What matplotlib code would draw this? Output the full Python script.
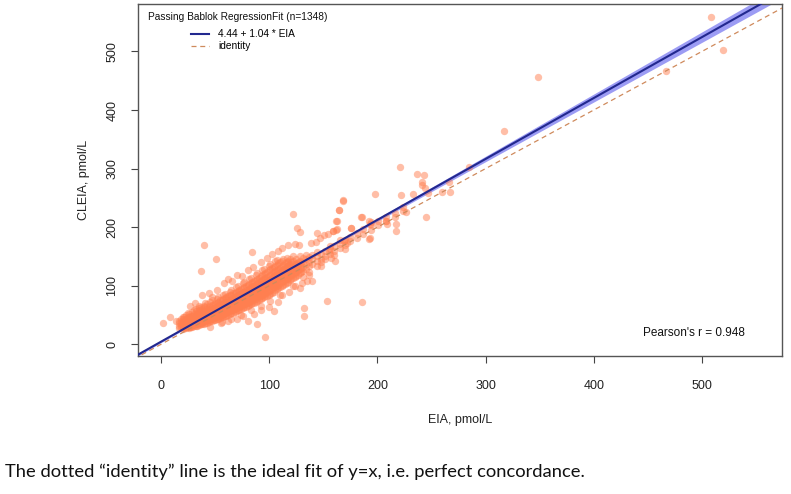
import matplotlib
matplotlib.use("Agg")
import matplotlib.pyplot as plt
import numpy as np
from matplotlib.lines import Line2D

# fit reported by the Passing-Bablok regression
intercept = 4.44
slope = 1.04
n_obs = 1348
pearson_r = 0.948

# confidence band half-width (CLEIA units)
band_x = [-25, 0, 100, 200, 300, 400, 500, 580]
band_half = [2.0, 1.6, 1.0, 2.6, 4.7, 6.8, 8.9, 10.6]

# dense cluster: one x per row, several y per row
cluster_x = [17, 20, 23, 26, 29, 32, 35, 38, 41, 44, 47, 50, 53, 56, 59, 62, 65, 68,
             71, 74, 77, 80, 83, 86, 89, 92, 95, 98, 101, 104, 107, 110, 113, 116,
             119, 122, 125, 128, 131, 134, 137, 140, 144, 148, 152, 156, 160, 165,
             170, 175, 181, 187, 194, 201, 208, 216, 224]
cluster_y = [
    [27, 31, 36, 40], [26, 30, 34, 38, 43, 47], [28, 32, 35, 39, 44, 50, 29],
    [27, 31, 34, 37, 41, 46, 52, 30], [30, 33, 36, 40, 43, 48, 55, 38],
    [31, 35, 38, 42, 45, 50, 57, 34, 61], [33, 36, 40, 43, 47, 52, 58, 45, 65],
    [34, 38, 41, 45, 49, 54, 60, 43, 48], [36, 40, 44, 47, 51, 56, 63, 70, 49],
    [38, 42, 46, 50, 54, 58, 65, 52, 47], [40, 44, 48, 52, 56, 61, 67, 75, 58],
    [41, 46, 50, 54, 58, 63, 70, 55, 60], [44, 48, 52, 57, 61, 66, 73, 80, 62],
    [46, 50, 55, 59, 64, 69, 76, 61, 66, 38], [48, 53, 57, 62, 66, 72, 79, 86, 64],
    [50, 55, 60, 64, 69, 75, 82, 67, 71], [53, 58, 62, 67, 72, 78, 85, 93, 70, 44],
    [55, 60, 65, 70, 75, 81, 88, 73, 77], [58, 63, 68, 73, 78, 84, 91, 100, 76],
    [60, 66, 71, 76, 81, 87, 95, 79, 83, 50], [63, 68, 74, 79, 84, 90, 98, 107, 82],
    [65, 71, 76, 82, 87, 93, 101, 85, 90], [68, 74, 79, 85, 90, 97, 105, 114, 88, 58],
    [71, 77, 82, 88, 94, 100, 108, 92, 96], [74, 80, 86, 92, 97, 104, 112, 121, 95],
    [77, 83, 89, 95, 101, 108, 116, 99, 103, 66], [80, 86, 92, 98, 104, 111, 120, 128, 102],
    [83, 89, 96, 102, 108, 115, 124, 106, 110], [86, 93, 99, 106, 112, 119, 128, 137, 109, 74],
    [90, 97, 103, 110, 116, 123, 132, 113, 118], [94, 100, 107, 113, 120, 127, 136, 144, 117],
    [97, 104, 111, 117, 124, 131, 140, 121, 85], [101, 108, 115, 122, 128, 136, 145, 125],
    [105, 112, 119, 126, 133, 140, 148, 129], [109, 116, 123, 130, 137, 145, 133],
    [113, 120, 127, 134, 142, 150, 99], [117, 124, 131, 139, 146, 135],
    [121, 128, 136, 143, 151], [125, 132, 140, 148, 115], [129, 137, 145, 153],
    [133, 141, 149, 124], [137, 145, 153], [142, 150, 134, 158], [146, 154, 140],
    [151, 159, 145], [155, 163, 168], [160, 167, 152], [165, 172, 178], [170, 178, 162],
    [176, 184], [182, 190], [188, 196], [195, 203], [204, 210], [211, 218],
    [218, 225], [228, 235],
]

# second, interleaved set of rows in the dense part
cluster2_x = [18.5, 21.5, 24.5, 27.5, 30.5, 33.5, 36.5, 39.5, 42.5, 45.5, 48.5, 51.5,
              54.5, 57.5, 60.5, 63.5, 66.5, 69.5, 72.5, 75.5, 78.5, 81.5, 84.5, 87.5,
              90.5, 93.5, 96.5, 99.5, 102.5, 105.5, 108.5, 111.5, 114.5, 117.5, 120.5,
              123.5, 126.5, 129.5]
cluster2_y = [
    [29, 33, 38, 44], [28, 32, 36, 41, 46, 31], [30, 33, 37, 42, 47, 54],
    [29, 32, 35, 39, 44, 49, 33], [31, 34, 38, 41, 46, 52, 59], [32, 36, 39, 44, 48, 54, 37],
    [34, 37, 41, 46, 50, 56, 63, 42], [35, 39, 43, 47, 52, 58, 66, 46],
    [37, 41, 45, 49, 53, 60, 68, 56], [39, 43, 47, 51, 55, 60, 64, 72],
    [41, 45, 49, 53, 57, 62, 69, 51], [43, 47, 51, 56, 60, 65, 71, 78],
    [45, 49, 54, 58, 63, 68, 75, 59], [47, 51, 56, 61, 65, 70, 77, 84],
    [49, 54, 58, 63, 68, 73, 80, 66], [52, 56, 61, 66, 71, 76, 84, 90],
    [54, 59, 64, 69, 74, 79, 87, 72], [56, 62, 67, 72, 77, 83, 90, 98],
    [59, 64, 69, 75, 80, 86, 93, 78], [62, 67, 72, 78, 83, 89, 96, 104],
    [64, 70, 75, 81, 86, 92, 100, 84], [67, 72, 78, 84, 89, 95, 103, 111],
    [70, 75, 81, 87, 92, 99, 106, 90], [72, 78, 84, 90, 96, 102, 110, 118],
    [76, 82, 87, 93, 99, 106, 114, 98], [79, 85, 91, 97, 103, 110, 118, 126],
    [82, 88, 94, 100, 107, 113, 122, 104], [85, 91, 98, 104, 110, 117, 126, 134],
    [88, 95, 101, 108, 114, 121, 130, 112], [92, 99, 105, 112, 118, 125, 134, 142],
    [96, 102, 109, 115, 122, 129, 138], [99, 106, 113, 120, 126, 133, 142],
    [103, 110, 117, 124, 131, 138], [107, 114, 121, 128, 135, 143],
    [111, 118, 125, 132, 140], [115, 122, 129, 137], [119, 126, 134, 141],
    [123, 131, 138],
]

# loose points on the edges of the cluster
fringe_x = [27, 31, 35, 38, 44, 47, 52, 58, 62, 66, 70, 75, 80, 85, 92, 98, 103, 108,
            112, 45, 55, 62, 70, 76, 80, 86, 92, 100, 108, 112, 118, 124, 128, 135]
fringe_y = [66, 70, 62, 84, 88, 80, 92, 104, 112, 108, 118, 116, 126, 132, 140, 148,
            155, 160, 164, 30, 36, 40, 44, 48, 40, 52, 58, 64, 72, 84, 90, 100, 96, 108]

# scattered points away from the cluster
outlier_x = [39.7, 50.8, 37.2, 1.5, 8, 13.5, 121.8, 84, 96, 88.3, 104, 131.7, 131.7,
             153.5, 186, 126, 128.3, 117, 123.4, 127.4, 164.6, 168, 185, 175.7, 192.3,
             161.8, 159.4, 163, 139, 142.8, 147, 144.6, 150.5, 154, 155.7, 161, 157,
             169.5, 172, 130, 139.4, 136.6, 147.7, 193.8, 348, 316.7, 221, 236.6, 242.8,
             241, 241, 244, 247, 266, 267, 259.4, 284.7, 198, 222, 232.9, 168, 164.5,
             163, 159, 161.7, 185.5, 192.5, 192.9, 208, 209, 217, 217, 226, 244.6, 176,
             193, 508, 519, 467]
outlier_y = [170, 145, 124.6, 35.7, 46, 40, 222, 157, 13, 34, 57, 61.8, 48,
             74, 73, 198, 191, 169, 171, 170, 230, 245, 217, 198, 179,
             211, 193, 196, 173, 175, 181, 190, 186, 188, 160, 142, 148,
             177, 173, 104, 107.6, 118, 134, 209.6, 456, 363.5, 302, 290, 289,
             277, 271.6, 266, 258.5, 277, 260, 260, 302.8, 256, 254.7, 257, 247, 230,
             211, 193.7, 195, 217.6, 209.7, 206, 209.7, 205, 205, 193, 226, 216.5, 198,
             180.7, 558, 502, 466.5]

rows_x = cluster_x + cluster2_x
rows_y = cluster_y + cluster2_y
pts_x = [x for x, ys in zip(rows_x, rows_y) for _ in ys] + fringe_x + outlier_x
pts_y = [y for ys in rows_y for y in ys] + fringe_y + outlier_y

fig = plt.figure(figsize=(7.91, 4.94), dpi=100)
ax = fig.add_axes([138 / 791, 1 - 356 / 494, 644 / 791, 352 / 494])
xlim = (-21.3, 574)
ylim = (-20, 581)

bx = np.array(band_x, dtype=float)
fit_b = intercept + slope * bx
ax.fill_between(bx, fit_b - np.array(band_half), fit_b + np.array(band_half),
                color="#9c9cf4", lw=0, zorder=2)
ax.scatter(pts_x, pts_y, s=28, color="#FF7F50", alpha=0.5, lw=0, zorder=3)
ax.plot(bx, fit_b, color="#22288f", lw=1.5, zorder=4)
ax.plot(bx, bx, color="#cf8a5c", lw=0.9, ls=(0, (4, 3)), zorder=4)

ax.set_xlim(*xlim)
ax.set_ylim(*ylim)
ax.set_xticks(range(0, 501, 100))
ax.set_yticks(range(0, 501, 100))
lab_font = dict(family="Liberation Sans", size=9, color="#222222")
ax.set_xticklabels([str(v) for v in range(0, 501, 100)], **lab_font)
ax.set_yticklabels([str(v) for v in range(0, 501, 100)], rotation=90, va="center", **lab_font)
ax.tick_params(length=5, width=0.8, color="#444444", pad=12)
ax.tick_params(axis="y", pad=9)
for sp in ax.spines.values():
    sp.set_color("#555555")
    sp.set_linewidth(1.0)
ax.set_xlabel("EIA, pmol/L", labelpad=16, **lab_font)
ax.set_ylabel("CLEIA, pmol/L", labelpad=12, **lab_font)

ax.text(0.0155, 0.963, f"Passing Bablok RegressionFit (n={n_obs})", transform=ax.transAxes,
        ha="left", va="center", family="Liberation Sans", size=7.3, color="#111111")
handles = [Line2D([], [], color="#22288f", lw=1.5),
           Line2D([], [], color="#cf8a5c", lw=0.9, ls=(0, (4, 3)))]
ax.legend(handles, [f"{intercept} + {slope} * EIA", "identity"], loc="upper left",
          bbox_to_anchor=(0.076, 0.94), frameon=False, handlelength=1.8,
          handletextpad=0.9, labelspacing=0.2, borderaxespad=0,
          prop={"family": "Liberation Sans", "size": 7.3})
ax.text(0.9425, 0.065, f"Pearson's r = {pearson_r}", transform=ax.transAxes,
        ha="right", va="center", family="Liberation Sans", size=8.5, color="#111111")

fig.text(5 / 791, 1 - 472 / 494,
         "The dotted \u201cidentity\u201d line is the ideal fit of y=x, i.e. perfect concordance.",
         ha="left", va="center", family="Lato", size=13.2, color="#111111")

fig.savefig("out.png", dpi=100)
